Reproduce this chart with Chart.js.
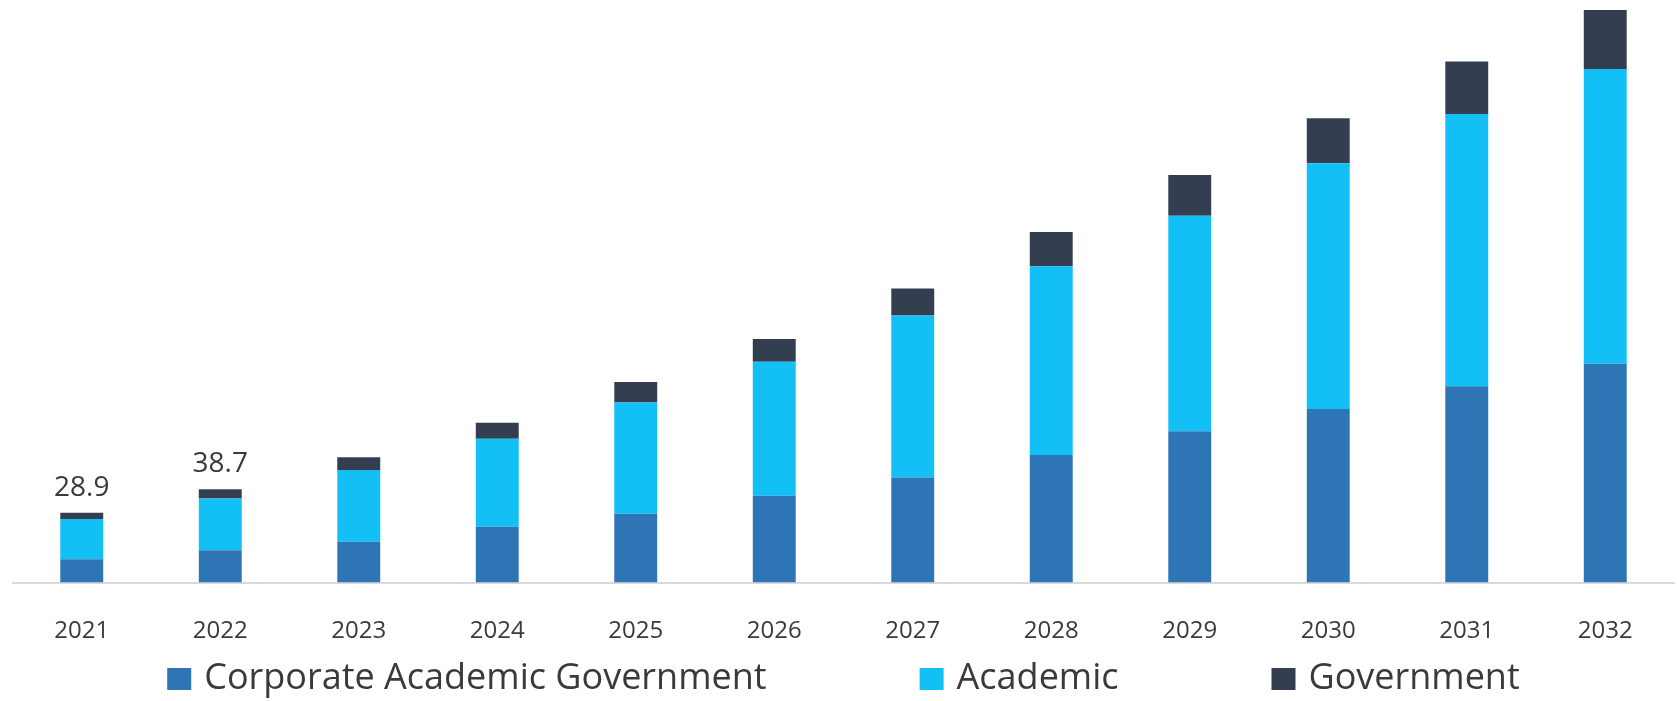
<!DOCTYPE html>
<html>
<head>
<meta charset="utf-8">
<script src="https://cdn.jsdelivr.net/npm/chart.js@4.4.1/dist/chart.umd.min.js"></script>
<style>
  html, body { margin: 0; padding: 0; background: #ffffff; overflow: hidden; }
  #wrap { width: 1679px; height: 701px; }
</style>
</head>
<body>
<div id="wrap"><canvas id="c" width="1679" height="701"></canvas></div>
<script>
// ---- data ----
const years = ['2021', '2022', '2023', '2024', '2025', '2026', '2027', '2028', '2029', '2030', '2031', '2032'];
const corporate = [9.6, 13.4, 16.9, 23.1, 28.5, 36.0, 43.6, 52.9, 62.7, 72.0, 81.4, 90.7];
const academic = [16.7, 21.4, 29.8, 36.5, 46.2, 55.6, 67.1, 78.3, 89.4, 101.9, 112.9, 122.3];
const government = [2.6, 3.9, 5.3, 6.7, 8.5, 9.4, 11.2, 14.2, 16.9, 18.7, 21.8, 24.5];
const seriesNames = ['Corporate Academic Government', 'Academic', 'Government'];
const labeledYears = ['2021', '2022'];
const yMax = 241.6;

// ---- styles ----
const colors = ['#2E75B6', '#12C0F6', '#333F50'];
const textColor = '#3a3a3a';
const fontFamily = '"Open Sans", "Noto Sans", sans-serif';

const totalsPlugin = {
  id: 'totals',
  afterDatasetsDraw(chart) {
    const ctx = chart.ctx;
    const lastMeta = chart.getDatasetMeta(chart.data.datasets.length - 1);
    ctx.save();
    ctx.font = '28px ' + fontFamily;
    ctx.fillStyle = textColor;
    ctx.textAlign = 'center';
    ctx.textBaseline = 'alphabetic';
    chart.data.labels.forEach((lab, i) => {
      if (!labeledYears.includes(lab)) return;
      const total = chart.data.datasets.reduce((s, d) => s + d.data[i], 0);
      const bar = lastMeta.data[i];
      ctx.fillText(total.toFixed(1), bar.x, bar.y - 17);
    });
    ctx.restore();
  }
};

const legendPlugin = {
  id: 'rowLegend',
  afterDraw(chart) {
    const ctx = chart.ctx;
    const boxW = 24, boxH = 22, textGap = 13, itemGap = 153;
    ctx.save();
    ctx.font = '36px ' + fontFamily;
    const items = chart.data.datasets.map(d => ({
      text: d.label, color: d.backgroundColor, w: ctx.measureText(d.label).width
    }));
    const total = items.reduce((s, it) => s + boxW + textGap + it.w, 0) + itemGap * (items.length - 1);
    let x = (chart.chartArea.left + chart.chartArea.right) / 2 - total / 2;
    const baseY = chart.height - 12;
    items.forEach(it => {
      ctx.fillStyle = it.color;
      ctx.fillRect(x, baseY - boxH + 1, boxW, boxH);
      x += boxW + textGap;
      ctx.fillStyle = textColor;
      ctx.textAlign = 'left';
      ctx.textBaseline = 'alphabetic';
      ctx.fillText(it.text, x, baseY);
      x += it.w + itemGap;
    });
    ctx.restore();
  }
};

const seriesData = [corporate, academic, government];

new Chart(document.getElementById('c'), {
  type: 'bar',
  data: {
    labels: years,
    datasets: seriesData.map((arr, k) => ({
      label: seriesNames[k],
      data: arr,
      backgroundColor: colors[k],
      borderWidth: 0,
      categoryPercentage: 1.0,
      barPercentage: 0.31
    }))
  },
  options: {
    responsive: false,
    animation: false,
    devicePixelRatio: 1,
    layout: { padding: { left: 12.5, right: 4.5, top: 0, bottom: 61.7 } },
    plugins: {
      legend: { display: false },
      tooltip: { enabled: false }
    },
    scales: {
      x: {
        stacked: true,
        grid: { display: false },
        border: { display: true, color: '#d9d9d9', width: 2 },
        ticks: { color: textColor, font: { family: fontFamily, size: 24 }, padding: 26 },
        afterFit(scale) { scale.height = 56.8; }
      },
      y: {
        stacked: true,
        display: false,
        min: 0,
        max: yMax
      }
    }
  },
  plugins: [totalsPlugin, legendPlugin]
});
</script>
</body>
</html>
